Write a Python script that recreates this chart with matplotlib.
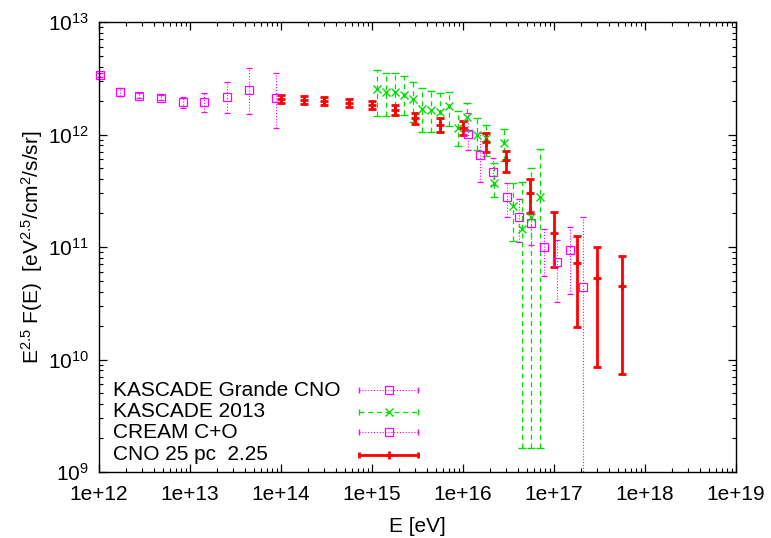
"""CNO spectrum: propagated source model against KASCADE, KASCADE-Grande and CREAM."""

import matplotlib

matplotlib.use("Agg")
import matplotlib.pyplot as plt
import numpy as np
from matplotlib.ticker import FixedLocator, FuncFormatter, LogLocator, NullFormatter

MAGENTA = "#ff00ff"
GREEN = "#00e000"
RED = "#ff0000"
FONT_SIZE = 15

# CREAM C+O
cream_e = [1.02e12, 1.7e12, 2.75e12, 4.8e12, 8.4e12, 1.43e13, 2.55e13, 4.45e13, 8.8e13]
cream_f = [3.38e12, 2.40e12, 2.21e12, 2.12e12, 1.93e12, 1.96e12, 2.14e12, 2.47e12, 2.10e12]
cream_lo = [3.25e12, 2.20e12, 2.11e12, 2.03e12, 1.72e12, 1.58e12, 1.55e12, 1.52e12, 1.14e12]
cream_hi = [3.52e12, 2.59e12, 2.34e12, 2.24e12, 2.15e12, 2.34e12, 2.93e12, 3.90e12, 3.52e12]

# KASCADE-Grande CNO
kg_e = [1.13e16, 1.55e16, 2.15e16, 3.02e16, 4.12e16, 5.63e16, 7.82e16, 1.09e17, 1.50e17, 2.07e17]
kg_f = [1.02e12, 6.57e11, 4.67e11, 2.80e11, 1.86e11, 1.64e11, 1.00e11, 7.31e10, 9.40e10, 4.44e10]
kg_lo = [7.28e11, 3.80e11, 3.56e11, 1.83e11, 1.11e11, 1.04e11, 5.56e10, 3.22e10, 3.82e10, 5e8]
kg_hi = [1.54e12, 1.04e12, 6.18e11, 3.68e11, 2.65e11, 2.11e11, 1.44e11, 1.15e11, 1.50e11, 1.86e11]

# KASCADE 2013
k13_e = [1.13e15, 1.41e15, 1.79e15, 2.26e15, 2.84e15, 3.52e15, 4.42e15, 5.59e15, 7.02e15,
         8.88e15, 1.11e16, 1.41e16, 1.78e16, 2.21e16, 2.82e16, 3.57e16, 4.42e16, 5.59e16, 7.02e16]
k13_f = [2.52e12, 2.37e12, 2.37e12, 2.24e12, 2.06e12, 1.69e12, 1.65e12, 1.59e12, 1.79e12,
         1.14e12, 1.44e12, 1.00e12, 9.25e11, 3.73e11, 8.35e11, 2.31e11, 1.44e11, 1.86e11, 2.80e11]
k13_lo = [1.46e12, 1.46e12, 1.49e12, 1.49e12, 1.30e12, 1.06e12, 1.05e12, 1.06e12, 1.20e12,
          7.85e11, 1.08e12, 7.28e11, 6.44e11, 2.77e11, 5.85e11, 1.14e11, 1.63e9, 1.63e9, 1.63e9]
k13_hi = [3.74e12, 3.54e12, 3.50e12, 3.31e12, 2.95e12, 2.61e12, 2.45e12, 2.32e12, 2.37e12,
          1.63e12, 1.92e12, 1.41e12, 1.21e12, 5.55e11, 1.12e12, 3.73e11, 3.76e11, 5.01e11, 7.43e11]

# model: CNO, source at 25 pc, spectral index 2.25
cno_e = [1.0e14, 1.8e14, 3.0e14, 5.6e14, 1.0e15, 1.8e15, 3.0e15, 5.6e15,
         1.0e16, 1.8e16, 3.0e16, 5.5e16, 1.0e17, 1.8e17, 3.0e17, 5.6e17]
cno_f = [2.07e12, 2.01e12, 1.97e12, 1.89e12, 1.82e12, 1.65e12, 1.39e12, 1.21e12,
         1.15e12, 8.5e11, 5.9e11, 3.02e11, 1.34e11, 7.25e10, 5.33e10, 4.53e10]
cno_lo = [1.91e12, 1.85e12, 1.82e12, 1.75e12, 1.67e12, 1.49e12, 1.24e12, 1.06e12,
          9.9e11, 7.0e11, 4.67e11, 2.02e11, 6.6e10, 1.96e10, 8.6e9, 7.4e9]
cno_hi = [2.24e12, 2.19e12, 2.14e12, 2.06e12, 1.97e12, 1.83e12, 1.56e12, 1.39e12,
          1.33e12, 1.03e12, 7.2e11, 4.0e11, 2.03e11, 1.25e11, 9.9e10, 8.3e10]

legend_labels = ["KASCADE Grande CNO", "KASCADE 2013", "CREAM C+O", "CNO 25 pc  2.25"]

STYLES = {
    "kg": dict(color=MAGENTA, marker="s", ms=5.8, mew=0.9, lw=0.8,
               ls=(0, (1, 1.6)), capsize=2.5),
    "k13": dict(color=GREEN, marker="x", ms=5.8, mew=1.0, lw=0.9,
                ls=(0, (4, 3)), capsize=3.0),
    "cream": dict(color=MAGENTA, marker="s", ms=5.8, mew=0.9, lw=0.8,
                  ls=(0, (1, 1.6)), capsize=2.5),
    "cno": dict(color=RED, marker="+", ms=6, mew=2.0, lw=2.0,
                ls="-", capsize=3.2),
}


def _errorbars(ax, e, f, lo, hi, style, clip=True):
    f = np.asarray(f)
    yerr = [f - np.asarray(lo), np.asarray(hi) - f]
    st = dict(style)
    ls = st.pop("ls")
    lw = st.pop("lw")
    line, caps, bars = ax.errorbar(
        e, f, yerr=yerr, fmt=st.pop("marker"), linestyle="none", mfc="none",
        elinewidth=lw, capthick=max(lw, 1.0), **st,
    )
    for b in bars:
        b.set_linestyle(ls)
        b.set_clip_on(clip)
    for c in caps:
        c.set_clip_on(clip)
    line.set_clip_on(clip)


def _legend_row(ax, y, label, style):
    x0, x1, xm = 0.4086, 0.5013, 0.455
    ax.text(0.0225, y, label, transform=ax.transAxes, ha="left", va="center",
            fontsize=FONT_SIZE)
    ax.plot([x0, x1], [y, y], transform=ax.transAxes, color=style["color"],
            lw=style["lw"], ls=style["ls"], clip_on=False)
    ax.plot([x0, x1], [y, y], transform=ax.transAxes, color=style["color"], ls="none",
            marker="|", ms=5, mew=max(style["lw"], 1.0), clip_on=False)
    ax.plot([xm], [y], transform=ax.transAxes, color=style["color"], ls="none",
            marker=style["marker"], ms=style["ms"], mfc="none", mew=style["mew"],
            clip_on=False)


def main():
    plt.rcParams.update({
        "font.family": ["Liberation Sans", "DejaVu Sans"],
        "mathtext.fontset": "custom",
        "mathtext.rm": "Liberation Sans",
        "mathtext.it": "Liberation Sans:italic",
        "mathtext.bf": "Liberation Sans:bold",
        "font.size": FONT_SIZE,
    })
    fig = plt.figure(figsize=(7.71, 5.38), dpi=100)
    ax = fig.add_axes([99 / 771, 66 / 538, 637 / 771, 450 / 538])

    _errorbars(ax, kg_e, kg_f, kg_lo, kg_hi, STYLES["kg"])
    _errorbars(ax, k13_e, k13_f, k13_lo, k13_hi, STYLES["k13"])
    _errorbars(ax, cream_e, cream_f, cream_lo, cream_hi, STYLES["cream"], clip=False)
    _errorbars(ax, cno_e, cno_f, cno_lo, cno_hi, STYLES["cno"])

    ax.set_xscale("log")
    ax.set_yscale("log")
    ax.set_xlim(1e12, 1e19)
    ax.set_ylim(1e9, 1e13)

    ax.xaxis.set_major_locator(FixedLocator([10.0 ** k for k in range(12, 20)]))
    ax.xaxis.set_major_formatter(FuncFormatter(lambda v, _: f"1e+{int(round(np.log10(v)))}"))
    ax.xaxis.set_minor_locator(LogLocator(base=10, subs=np.arange(2, 10), numticks=30))
    ax.xaxis.set_minor_formatter(NullFormatter())
    ax.yaxis.set_major_locator(FixedLocator([10.0 ** k for k in range(9, 14)]))
    ax.yaxis.set_major_formatter(
        FuncFormatter(lambda v, _: r"$10^{\mathrm{%d}}$" % int(round(np.log10(v))))
    )
    ax.yaxis.set_minor_locator(LogLocator(base=10, subs=np.arange(2, 10), numticks=30))
    ax.yaxis.set_minor_formatter(NullFormatter())

    ax.tick_params(which="both", direction="in", top=True, right=True, labelsize=FONT_SIZE)
    ax.tick_params(which="major", length=6, width=0.9)
    ax.tick_params(which="minor", length=3, width=0.8)
    ax.tick_params(axis="x", which="major", pad=9)
    ax.tick_params(axis="y", which="major", pad=7)
    for sp in ax.spines.values():
        sp.set_linewidth(1.0)

    ax.set_xlabel("E [eV]", fontsize=FONT_SIZE, labelpad=10)
    ax.set_ylabel(r"E$^{\mathrm{2.5}}$ F(E)  [eV$^{\mathrm{2.5}}$/cm$^{\mathrm{2}}$/s/sr]",
                  fontsize=FONT_SIZE, labelpad=2)

    rows = [0.1822, 0.134, 0.0882, 0.0378]
    for y, label, key in zip(rows, legend_labels, ["kg", "k13", "cream", "cno"]):
        _legend_row(ax, y, label, STYLES[key])

    fig.savefig("out.png", dpi=100, facecolor="white")
    plt.close(fig)


if __name__ == "__main__":
    main()
